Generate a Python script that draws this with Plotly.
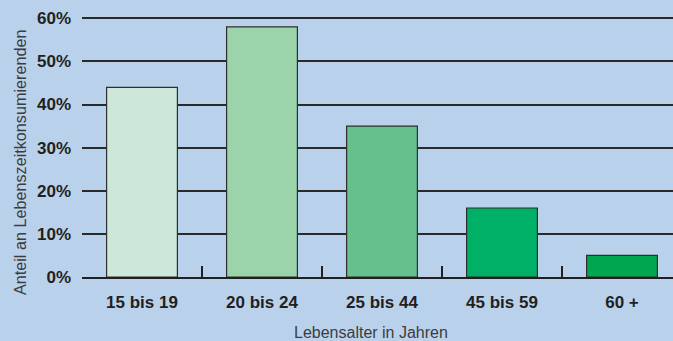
import plotly.graph_objects as go

categories = ["15 bis 19", "20 bis 24", "25 bis 44", "45 bis 59", "60 +"]
values = [44, 58, 35, 16, 5]
bar_colors = ["#cde8d8", "#9bd4ab", "#66c08e", "#00b067", "#00a650"]
y_ticks = [0, 10, 20, 30, 40, 50, 60]
y_labels = ["0%", "10%", "20%", "30%", "40%", "50%", "60%"]

bg = "#bad1ec"
dark = "#231f20"

fig = go.Figure(go.Bar(
    x=categories, y=values,
    marker=dict(color=bar_colors, line=dict(color="#2e2e2e", width=1.2)),
    width=0.59,
))

fig.update_layout(
    width=673, height=341,
    margin=dict(l=82, r=0, t=17, b=64),
    paper_bgcolor=bg, plot_bgcolor=bg,
    showlegend=False,
    font=dict(family="Liberation Sans, Arial, sans-serif", color=dark),
    xaxis=dict(
        type="category",
        range=[-0.5, 4.425],
        showgrid=False,
        showline=True, linecolor=dark, linewidth=2,
        ticks="inside", tickson="boundaries", ticklen=11, tickwidth=2, tickcolor=dark,
        tickfont=dict(size=17, family="Liberation Sans, Arial, sans-serif", weight="bold"),
        ticklabelstandoff=9,
        zeroline=False,
    ),
    yaxis=dict(
        range=[0, 60.3],
        tickvals=y_ticks, ticktext=y_labels,
        showgrid=True, gridcolor="#2a2a2a", gridwidth=2,
        showline=False, zeroline=False,
        ticks="", ticklabelstandoff=10,
        tickfont=dict(size=17, family="Liberation Sans, Arial, sans-serif", weight="bold"),
    ),
    annotations=[
        dict(text="Anteil an Lebenszeitkonsumierenden", xref="paper", yref="paper",
             x=-0.105, y=0.442, textangle=-90, showarrow=False,
             xanchor="center", yanchor="middle",
             font=dict(size=16.2, color="#3c3c3c")),
        dict(text="Lebensalter in Jahren", xref="paper", yref="paper",
             x=(371 - 82) / 591, y=-0.215, showarrow=False,
             xanchor="center", yanchor="middle",
             font=dict(size=16, color="#3c3c3c")),
    ],
)

fig.write_html("out.html")
